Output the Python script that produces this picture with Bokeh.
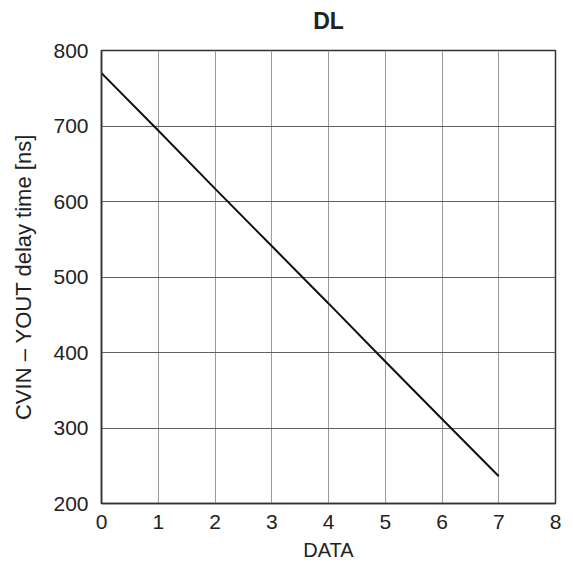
from bokeh.plotting import figure
from bokeh.embed import file_html
from bokeh.resources import INLINE
from bokeh.models import Range1d, FixedTicker, Title

data_codes = [0, 1, 2, 3, 4, 5, 6, 7]
delay_ns = [770, 694, 617, 541, 465, 388, 312, 236]
x_ticks = [0, 1, 2, 3, 4, 5, 6, 7, 8]
y_ticks = [200, 300, 400, 500, 600, 700, 800]
title_text = "DL"

FONT = "Liberation Sans"

p = figure(width=565, height=569, output_backend="svg", toolbar_location=None,
           x_range=Range1d(0, 8), y_range=Range1d(200, 800),
           min_border_left=101, min_border_right=10, min_border_bottom=66, min_border_top=49)

p.title.text = title_text
p.title.align = "center"
p.title.text_font = FONT
p.title.text_font_size = "23px"
p.title.text_font_style = "bold"
p.title.text_color = "#222222"

spacer = Title(text=" ", text_font_size="9px", standoff=0)
p.add_layout(spacer, "above")

p.line(data_codes, delay_ns, line_color="#111111", line_width=2)

p.xaxis.ticker = FixedTicker(ticks=x_ticks)
p.yaxis.ticker = FixedTicker(ticks=y_ticks)
p.xaxis.axis_label = "DATA"
p.yaxis.axis_label = "CVIN \u2013 YOUT delay time [ns]"

for ax in (p.xaxis[0], p.yaxis[0]):
    ax.axis_label_text_font = FONT
    ax.axis_label_text_font_size = "20px"
    ax.axis_label_text_font_style = "normal"
    ax.axis_label_text_color = "#222222"
    ax.major_label_text_font = FONT
    ax.major_label_text_font_size = "21px"
    ax.major_label_text_color = "#222222"
    ax.major_tick_line_color = None
    ax.minor_tick_line_color = None
    ax.axis_line_color = "#333333"
    ax.axis_line_width = 1.5

p.yaxis[0].axis_label_text_font_size = "22px"
p.yaxis[0].major_label_standoff = 7
p.yaxis[0].axis_label_standoff = 14
p.xaxis[0].major_label_standoff = 5
p.xaxis[0].axis_label_standoff = 7

p.xgrid.grid_line_color = "#9a9a9a"
p.ygrid.grid_line_color = "#606060"
p.xgrid.grid_line_width = 1
p.ygrid.grid_line_width = 1
p.outline_line_color = "#333333"
p.outline_line_width = 1.5
p.background_fill_color = "white"
p.border_fill_color = "white"

open("out.html", "w").write(file_html(p, INLINE))
